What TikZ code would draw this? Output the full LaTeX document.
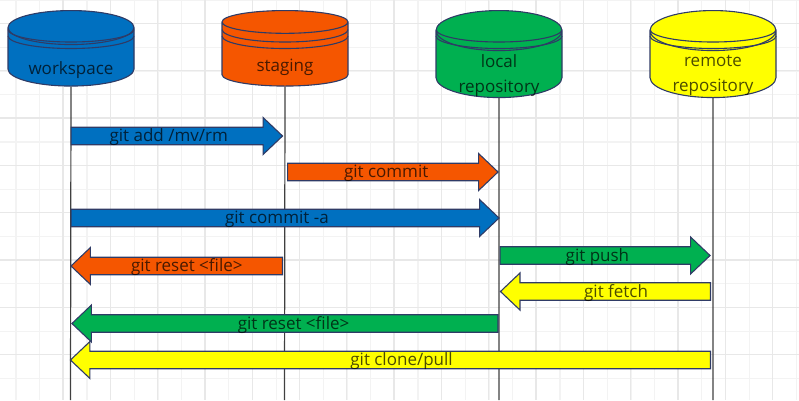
\documentclass[tikz,border=0pt]{standalone}
\usepackage{fontspec}
\setmainfont{Open Sans}
\usetikzlibrary{shapes.geometric,shapes.arrows}
\definecolor{wsblue}{HTML}{0070C0}
\definecolor{stagorange}{HTML}{F55600}
\definecolor{localgreen}{HTML}{00B050}
\definecolor{remoteyellow}{HTML}{FFFF00}
\definecolor{outline}{HTML}{2F3B66}
\definecolor{gridstrong}{HTML}{E8E8E8}
\definecolor{gridweak}{HTML}{F3F3F3}
\tikzset{
  store/.style={cylinder, shape border rotate=90, aspect=0.4, draw=outline, line width=1.1pt,
    minimum width=126, inner sep=0pt, align=center, text=black, text opacity=0.7,
    font=\fontsize{17}{25}\selectfont},
  cmd/.style={single arrow, draw=outline, line width=1.1pt, inner sep=0pt, minimum width=37,
    single arrow head extend=6.75, single arrow tip angle=87, text=black, text opacity=0.7,
    text height=11pt, text depth=0pt, font=\fontsize{17}{20}\selectfont},
  toleft/.style={cmd, shape border rotate=180},
  lifeline/.style={draw=black!75, line width=1.2pt}
}
\begin{document}
\begin{tikzpicture}[x=1pt,y=-1pt]
\useasboundingbox (0,0) rectangle (799,400);
% grid
\foreach \k in {0,...,33} \draw[gridweak, line width=1.2pt] (16+47.3*\k/2,0) -- (16+47.3*\k/2,400);
\foreach \k in {0,...,16} \draw[gridweak, line width=1.2pt] (0,47.3*\k/2) -- (799,47.3*\k/2);
\foreach \k in {0,...,15} \draw[gridstrong, line width=1.3pt] (63+47.3*\k,0) -- (63+47.3*\k,400);
\foreach \k in {0,...,8} \draw[gridstrong, line width=1.3pt] (0,23.5+47.3*\k) -- (799,23.5+47.3*\k);
% stores
\node[store, fill=wsblue, minimum height=75.5, anchor=north] (workspace) at (71,10) {\raisebox{-17pt}[0pt][0pt]{workspace}};
\node[store, fill=stagorange, minimum height=75.5, anchor=north] (staging) at (285,10) {\raisebox{-17pt}[0pt][0pt]{staging}};
\node[store, fill=localgreen, minimum height=87, anchor=north] (local) at (499,10) {\raisebox{-15.5pt}[0pt][0pt]{\parbox{100pt}{\centering local\\repository}}};
\node[store, fill=remoteyellow, minimum height=87, anchor=north] (remote) at (713,10) {\raisebox{-15.5pt}[0pt][0pt]{\parbox{100pt}{\centering remote\\repository}}};
\foreach \n in {workspace,staging,local,remote}
  \foreach \d in {6.5,13}
    \draw[outline, line width=1.1pt] ([xshift=-63,yshift=-13-\d]\n.north) arc[start angle=180,end angle=0,x radius=63,y radius=12.5];
% lifelines
\coordinate (wsend) at (70.5,400);
\coordinate (stend) at (284.5,400);
\coordinate (loend) at (499,400);
\coordinate (reend) at (713,400);
\draw[lifeline] (workspace.south) -- (wsend);
\draw[lifeline] (staging.south) -- (stend);
\draw[lifeline] (local.south) -- (loend);
\draw[lifeline] (remote.south) -- (reend);
% commands
\node[cmd, fill=wsblue, minimum height=211.5, anchor=tail] (add) at (70.5,136) {git add /mv/rm\hspace*{7pt}};
\node[cmd, fill=stagorange, minimum height=210.5, anchor=tail] (commit) at (287,172) {git commit\hspace*{4pt}};
\node[cmd, fill=wsblue, minimum height=428, anchor=tail] (commita) at (70.5,218) {git commit -a\hspace*{7pt}};
\node[cmd, fill=localgreen, minimum height=210, anchor=tail] (push) at (499.5,255.5) {git push\hspace*{6pt}};
\node[toleft, fill=stagorange, minimum height=211.5, anchor=tail] (resetf) at (283,266) {\hspace*{11pt}git reset <file>};
\node[toleft, fill=remoteyellow, minimum height=210, anchor=tail] (fetch) at (711,291.5) {\hspace*{12pt}git fetch};
\node[toleft, fill=localgreen, minimum height=426, anchor=tail] (reset) at (498.5,323.5) {\hspace*{8pt}git reset <file>};
\node[toleft, fill=remoteyellow, minimum height=640, anchor=tail] (clone) at (711,360) {\hspace*{13pt}git clone/pull};
\end{tikzpicture}
\end{document}
